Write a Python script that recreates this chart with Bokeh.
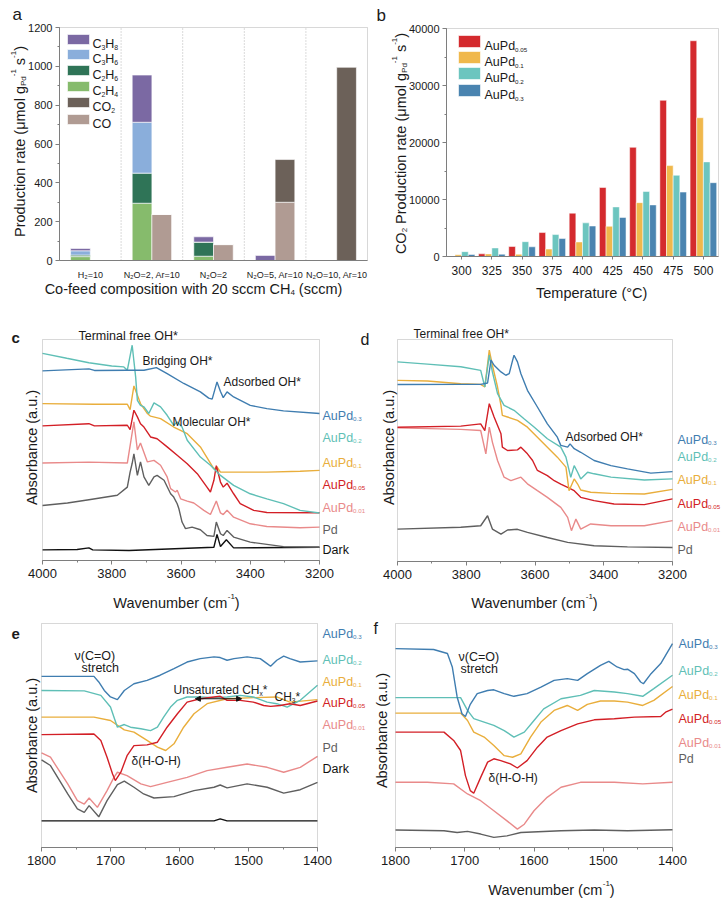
import math
from bokeh.plotting import figure
from bokeh.models import (Range1d, Label, BoxAnnotation, Arrow, NormalHead, FixedTicker,
                          SingleIntervalTicker, ColumnDataSource)
from bokeh.layouts import column, row
from bokeh.transform import dodge
from bokeh.embed import file_html
from bokeh.resources import INLINE

FONT = "Liberation Sans"
AXC = "#7f7f7f"
TXT = "#1a1a1a"

# ---------------- production rates over co-feed compositions ----------------
feeds = ["H\u2082=10", "N\u2082O=2, Ar=10", "N\u2082O=2", "N\u2082O=5, Ar=10", "N\u2082O=10, Ar=10"]
rate_c2h4 = [20, 295, 22, 0, 0]
rate_c2h6 = [8, 155, 73, 0, 0]
rate_c3h6 = [22, 262, 0, 0, 0]
rate_c3h8 = [12, 243, 27, 26, 0]
rate_co = [0, 237, 82, 300, 0]
rate_co2 = [0, 0, 0, 220, 995]

# ---------------- CO2 production vs temperature ----------------
temps = ["300", "325", "350", "375", "400", "425", "450", "475", "500"]
co2_au005 = [100, 470, 1750, 4200, 7600, 12100, 19150, 27400, 37850]
co2_au01 = [300, 450, 400, 1300, 2550, 5300, 9450, 15950, 24350]
co2_au02 = [850, 1500, 2600, 3850, 5900, 8700, 11400, 14250, 16600]
co2_au03 = [350, 400, 1700, 3150, 5350, 6850, 9050, 11300, 12950]

# ---------------- OH region spectra, first set (wavenumber, absorbance a.u.) ----------------
oh1_au03 = [(4000, 85.8), (3866, 86.7), (3850, 86.0), (3755, 86.1), (3707, 86.1), (3671, 87.3), (3640, 84.6),
            (3592, 80.1), (3544, 76.3), (3520, 73.5), (3510, 73.0), (3496, 80.8), (3486, 76.5), (3478, 73.7),
            (3467, 76.3), (3448, 74.0), (3400, 70.2), (3352, 68.7), (3304, 67.7), (3200, 66.5)]
oh1_au02 = [(4000, 93.7), (3930, 91.5), (3866, 89.5), (3800, 88.0), (3765, 87.6), (3755, 86.1), (3741, 97.4),
            (3731, 83.1), (3726, 72.5), (3717, 70.2), (3707, 69.5), (3693, 66.5), (3678, 71.3), (3659, 69.5),
            (3640, 65.7), (3621, 61.2), (3611, 62.7), (3597, 60.4), (3582, 54.4), (3544, 46.8), (3515, 43.1),
            (3486, 38.5), (3448, 34.0), (3400, 30.2), (3352, 27.9), (3304, 25.7), (3256, 22.7), (3200, 21.5)]
oh1_au01 = [(4000, 71.0), (3850, 70.7), (3755, 70.7), (3747, 68.3), (3736, 79.0), (3717, 71.0), (3697, 66.5),
            (3688, 65.3), (3659, 64.2), (3621, 60.4), (3582, 57.4), (3544, 51.4), (3505, 41.5), (3496, 42.3),
            (3486, 40.0), (3448, 40.0), (3352, 40.0), (3256, 40.4), (3200, 40.8)]
oh1_au005 = [(4000, 60.9), (3866, 61.9), (3850, 60.9), (3755, 61.2), (3747, 59.2), (3736, 68.0), (3726, 65.0),
             (3717, 61.9), (3707, 60.4), (3688, 55.9), (3669, 55.1), (3640, 51.4), (3611, 47.6), (3582, 43.8),
             (3553, 39.3), (3525, 33.2), (3515, 31.0), (3505, 36.3), (3498, 42.9), (3486, 35.5), (3478, 33.2),
             (3467, 35.0), (3448, 30.2), (3429, 25.7), (3390, 22.7), (3352, 21.7), (3200, 21.6)]
oh1_au001 = [(4000, 44.1), (3866, 44.5), (3755, 44.1), (3736, 62.7), (3726, 50.0), (3717, 53.2), (3697, 44.6),
             (3678, 45.3), (3659, 43.1), (3640, 37.8), (3630, 32.5), (3616, 31.0), (3611, 31.8), (3601, 27.9),
             (3582, 26.9), (3563, 26.0), (3534, 22.7), (3515, 20.8), (3498, 26.9), (3486, 21.5), (3478, 20.8),
             (3467, 22.7), (3448, 19.6), (3400, 16.6), (3352, 15.4), (3256, 14.8), (3200, 15.1)]
oh1_pd = [(4000, 24.9), (3928, 26.0), (3866, 27.5), (3784, 29.5), (3755, 33.2), (3747, 40.0), (3741, 44.0),
          (3736, 48.3), (3726, 38.5), (3717, 44.6), (3707, 37.8), (3693, 34.0), (3678, 37.8), (3669, 38.5),
          (3649, 36.3), (3630, 30.2), (3621, 28.7), (3611, 25.7), (3606, 23.4), (3597, 17.4), (3587, 14.4),
          (3568, 15.1), (3544, 13.9), (3525, 11.3), (3505, 10.9), (3498, 17.4), (3486, 12.1), (3478, 11.3),
          (3467, 13.6), (3448, 10.6), (3400, 8.3), (3304, 6.3), (3200, 6.0)]
oh1_dark = [(4000, 4.8), (3900, 5.0), (3866, 5.7), (3855, 4.8), (3750, 4.5), (3505, 6.0), (3496, 11.8),
            (3486, 6.3), (3469, 9.4), (3448, 5.7), (3200, 6.0)]

# ---------------- OH region spectra, second set ----------------
oh2_au03 = [(4000, 79.7), (3816, 79.8), (3758, 79.8), (3738, 80.4), (3728, 90.7), (3719, 88.4), (3699, 85.4),
            (3685, 83.9), (3675, 84.6), (3665, 90.7), (3661, 92.9), (3651, 89.9), (3641, 84.6), (3622, 77.1),
            (3593, 69.6), (3564, 62.0), (3535, 56.0), (3525, 52.3), (3505, 51.5), (3498, 53.0), (3486, 50.8),
            (3467, 49.2), (3428, 45.5), (3379, 43.2), (3331, 41.7), (3263, 39.8), (3200, 40.5)]
oh2_au02 = [(4000, 89.9), (3913, 88.9), (3816, 87.7), (3758, 86.1), (3746, 78.6), (3733, 93.0), (3724, 85.4),
            (3709, 75.6), (3690, 70.3), (3661, 68.1), (3632, 64.3), (3602, 60.5), (3564, 55.3), (3525, 51.5),
            (3510, 47.0), (3496, 37.9), (3486, 43.2), (3476, 40.2), (3467, 37.2), (3447, 40.2), (3428, 39.5),
            (3379, 38.0), (3282, 36.7), (3200, 37.2)]
oh2_au01 = [(4000, 81.6), (3913, 81.3), (3816, 80.1), (3758, 79.8), (3746, 78.6), (3733, 95.2), (3724, 88.4),
            (3709, 78.6), (3699, 70.3), (3695, 65.8), (3680, 65.1), (3651, 63.6), (3622, 60.5), (3593, 56.0),
            (3564, 51.5), (3535, 47.0), (3510, 42.5), (3501, 31.9), (3486, 37.2), (3476, 34.9), (3467, 32.2),
            (3438, 31.2), (3379, 30.7), (3282, 30.4), (3200, 32.5)]
oh2_au005 = [(4000, 60.5), (3816, 61.0), (3758, 62.0), (3746, 59.0), (3733, 71.1), (3719, 65.1), (3699, 57.5),
             (3695, 51.5), (3680, 50.0), (3651, 50.3), (3641, 51.5), (3622, 48.5), (3607, 45.5), (3593, 41.0),
             (3564, 38.7), (3544, 36.4), (3525, 34.9), (3505, 33.4), (3486, 31.9), (3467, 28.9), (3428, 27.4),
             (3370, 25.9), (3282, 25.6), (3200, 28.2)]
oh2_au001 = [(4000, 60.2), (3816, 59.5), (3758, 59.0), (3743, 48.5), (3733, 60.5), (3724, 53.8), (3709, 45.5),
             (3690, 38.0), (3670, 36.4), (3641, 38.0), (3622, 35.0), (3593, 31.9), (3564, 28.9), (3525, 24.4),
             (3505, 19.9), (3494, 13.9), (3481, 19.1), (3467, 14.6), (3438, 16.9), (3379, 16.1), (3282, 16.1),
             (3200, 18.4)]
oh2_pd = [(4000, 14.6), (3816, 15.4), (3758, 16.1), (3738, 20.6), (3724, 14.6), (3699, 12.3), (3680, 14.2),
          (3651, 14.5), (3622, 13.1), (3564, 10.8), (3505, 8.6), (3428, 7.1), (3331, 6.6), (3200, 6.3)]

# ---------------- carbonyl / bending region spectra, first set ----------------
cm1_au03 = [(1800, 76.4), (1724, 76.4), (1717, 73.9), (1709, 70.1), (1700, 67.2), (1690, 66.0), (1680, 70.1),
            (1666, 73.1), (1647, 74.6), (1628, 76.9), (1608, 79.9), (1589, 82.8), (1570, 84.3), (1550, 85.1),
            (1541, 84.8), (1531, 83.6), (1521, 84.3), (1502, 85.1), (1483, 84.3), (1473, 82.1), (1468, 80.9),
            (1459, 83.6), (1449, 85.4), (1440, 84.3), (1425, 82.8), (1400, 83.3)]
cm1_au02 = [(1800, 70.1), (1738, 69.9), (1714, 67.9), (1700, 62.7), (1690, 53.7), (1680, 54.9), (1671, 53.7),
            (1656, 53.0), (1642, 52.2), (1632, 53.7), (1623, 58.2), (1613, 62.7), (1603, 65.7), (1589, 67.2),
            (1570, 67.2), (1550, 66.9), (1531, 67.2), (1512, 67.9), (1493, 67.2), (1473, 64.9), (1459, 64.2),
            (1444, 62.7), (1425, 65.7), (1400, 72.4)]
cm1_au01 = [(1800, 58.2), (1724, 58.2), (1700, 56.7), (1680, 52.5), (1666, 51.5), (1647, 47.8), (1632, 44.8),
            (1620, 43.3), (1608, 46.3), (1594, 53.7), (1579, 59.7), (1560, 64.2), (1531, 66.4), (1493, 66.9),
            (1459, 67.2), (1440, 64.9), (1400, 66.0)]
cm1_au005 = [(1800, 50.4), (1724, 50.7), (1714, 47.8), (1705, 40.3), (1697, 32.8), (1693, 29.9), (1685, 33.6),
             (1676, 41.0), (1666, 45.5), (1647, 45.8), (1632, 47.0), (1618, 53.7), (1603, 59.7), (1589, 64.9),
             (1570, 66.4), (1550, 67.2), (1541, 67.5), (1531, 65.7), (1512, 65.7), (1493, 64.9), (1478, 63.4),
             (1468, 63.0), (1454, 63.4), (1440, 64.2), (1425, 63.4), (1400, 65.4)]
cm1_au001 = [(1800, 42.2), (1787, 40.3), (1762, 28.4), (1748, 20.9), (1738, 19.4), (1731, 22.1), (1719, 17.9),
             (1705, 25.4), (1695, 31.3), (1690, 33.6), (1676, 32.1), (1656, 28.4), (1642, 27.2), (1618, 29.1),
             (1589, 31.3), (1560, 34.3), (1531, 35.8), (1502, 37.3), (1473, 35.8), (1449, 33.6), (1425, 35.8),
             (1400, 40.7)]
cm1_pd = [(1800, 39.1), (1787, 36.6), (1762, 23.9), (1748, 17.2), (1738, 15.7), (1731, 18.7), (1717, 13.7),
          (1705, 20.9), (1690, 28.1), (1680, 29.6), (1666, 26.9), (1652, 23.9), (1637, 22.1), (1608, 22.7),
          (1579, 25.4), (1550, 26.9), (1541, 27.9), (1531, 26.6), (1502, 28.4), (1473, 26.9), (1449, 24.3),
          (1425, 25.8), (1400, 29.1)]
cm1_dark = [(1800, 11.9), (1550, 11.9), (1541, 12.8), (1531, 11.9), (1400, 11.9)]

# ---------------- carbonyl / bending region spectra, second set ----------------
cm2_au03 = [(1800, 88.8), (1745, 88.4), (1725, 86.6), (1718, 80.6), (1711, 67.2), (1704, 59.7), (1699, 58.5),
            (1692, 63.9), (1682, 68.7), (1667, 70.1), (1658, 70.4), (1643, 68.7), (1629, 67.5), (1610, 68.7),
            (1590, 71.6), (1571, 74.6), (1552, 75.4), (1537, 74.6), (1523, 77.6), (1504, 81.3), (1492, 83.1),
            (1480, 80.6), (1470, 79.4), (1465, 79.6), (1455, 77.6), (1446, 73.9), (1442, 73.1), (1431, 77.6),
            (1417, 82.1), (1400, 91.0)]
cm2_au02 = [(1800, 66.9), (1706, 66.9), (1696, 61.2), (1687, 57.5), (1672, 56.0), (1658, 54.5), (1643, 52.2),
            (1629, 49.3), (1614, 51.5), (1600, 56.7), (1586, 61.9), (1561, 66.4), (1533, 67.9), (1513, 70.1),
            (1484, 69.4), (1465, 68.7), (1443, 67.5), (1427, 70.9), (1400, 76.9)]
cm2_au01 = [(1800, 60.0), (1706, 60.0), (1696, 56.7), (1687, 51.5), (1672, 49.3), (1658, 45.5), (1643, 41.0),
            (1631, 40.3), (1619, 41.8), (1605, 49.3), (1590, 56.0), (1571, 61.2), (1552, 63.4), (1537, 61.2),
            (1523, 63.9), (1504, 65.4), (1484, 65.4), (1465, 64.9), (1443, 63.4), (1427, 65.7), (1400, 71.9)]
cm2_au005 = [(1800, 51.5), (1730, 51.5), (1716, 47.8), (1706, 43.3), (1699, 32.1), (1692, 25.4), (1687, 24.2),
             (1677, 31.3), (1667, 38.1), (1658, 39.6), (1648, 38.8), (1634, 37.3), (1624, 35.5), (1610, 38.8),
             (1595, 44.8), (1581, 49.3), (1561, 52.2), (1537, 55.2), (1513, 57.0), (1484, 57.5), (1455, 58.2),
             (1417, 58.5), (1410, 60.4), (1400, 61.8)]
cm2_au001 = [(1800, 29.1), (1754, 29.1), (1716, 28.4), (1696, 23.9), (1677, 20.9), (1658, 16.4), (1639, 11.9),
             (1624, 8.2), (1614, 10.4), (1600, 16.4), (1581, 22.4), (1561, 26.9), (1533, 29.1), (1484, 29.1),
             (1443, 28.4), (1400, 29.1)]
cm2_pd = [(1800, 7.8), (1730, 7.5), (1711, 6.7), (1696, 7.2), (1677, 6.0), (1658, 4.5), (1639, 5.2),
          (1619, 6.7), (1561, 7.5), (1513, 7.8), (1465, 7.5), (1400, 7.9)]

# wavenumber span of the unsaturated CHx band marker
chx_band = (1577, 1510)
chx_level = 66.4

# ---------------- colours ----------------
C_AU03 = "#3f7db0"
C_AU02 = "#5fbfb6"
C_AU01 = "#e9ae3c"
C_AU005 = "#d31f26"
C_AU001 = "#e98a8a"
C_PD = "#5f5f5f"
C_DARK = "#111111"

BAR_RED = "#d42a2e"
BAR_YEL = "#f0b84c"
BAR_TEAL = "#6cc5bf"
BAR_BLUE = "#4a84b0"

COL_C3H8 = "#7b69a3"
COL_C3H6 = "#8aaedb"
COL_C2H6 = "#2f7457"
COL_C2H4 = "#86bb6c"
COL_CO2 = "#6c6159"
COL_CO = "#b09b93"

# Arial-compatible advance widths (per 1000 em) used to lay out mixed sub/superscript text
W = {' ': 278, '(': 333, ')': 333, '-': 333, '.': 278, ',': 278, '*': 389, '=': 584, '\u00b0': 400,
     'A': 667, 'B': 667, 'C': 722, 'D': 722, 'E': 667, 'H': 722, 'M': 833, 'N': 722, 'O': 778, 'P': 667,
     'T': 611, 'U': 722, 'W': 944, 'a': 556, 'b': 556, 'c': 500, 'd': 556, 'e': 556, 'f': 278, 'g': 556,
     'h': 556, 'i': 222, 'k': 500, 'l': 222, 'm': 833, 'n': 556, 'o': 556, 'p': 556, 'r': 333, 's': 500,
     't': 278, 'u': 556, 'v': 500, 'w': 722, 'x': 500, 'y': 500, '\u03bc': 576, '\u03bd': 500, '\u03b4': 556}
SUBSCALE = 0.55


def text_width(s, size):
    return sum(W.get(ch, 556) for ch in s) * size / 1000.0


class Panel:
    """One plot whose frame fills the whole figure; the data box sits at given page pixels.

    xbox: data values at the box's left/right edges, ybox: data values at its bottom/top edges.
    """

    def __init__(self, ox, oy, w, h, left, right, top, bottom, xbox, ybox):
        self.ox, self.oy, self.w, self.h = ox, oy, w, h
        self.xbox, self.ybox = xbox, ybox
        kx = (xbox[1] - xbox[0]) / (right - left)
        ky = (ybox[1] - ybox[0]) / (bottom - top)
        self.x_start = xbox[0] - (left - ox) * kx
        self.x_end = xbox[1] + (ox + w - right) * kx
        self.y_start = ybox[0] - (oy + h - bottom) * ky
        self.y_end = ybox[1] + (top - oy) * ky

    def figure(self):
        p = figure(width=self.w, height=self.h,
                   x_range=Range1d(self.x_start, self.x_end), y_range=Range1d(self.y_start, self.y_end),
                   min_border=0, output_backend="svg", toolbar_location=None)
        p.xgrid.visible = False
        p.ygrid.visible = False
        p.outline_line_color = None
        p.background_fill_color = "white"
        p.border_fill_color = "white"
        p.add_layout(BoxAnnotation(left=self.xbox[0], right=self.xbox[1], bottom=self.ybox[0], top=self.ybox[1],
                                   fill_alpha=0.0, line_color=AXC, line_width=1))
        return p

    def box(self, p, px0, py0, px1, py1, color):
        """Legend swatch given in page pixels."""
        kx = (self.x_end - self.x_start) / self.w
        ky = (self.y_end - self.y_start) / self.h
        p.add_layout(BoxAnnotation(left=self.x_start + (px0 - self.ox) * kx,
                                   right=self.x_start + (px1 - self.ox) * kx,
                                   top=self.y_end - (py0 - self.oy) * ky,
                                   bottom=self.y_end - (py1 - self.oy) * ky,
                                   fill_color=color, fill_alpha=1.0, line_color="white", line_alpha=0.6))


def rich(p, panel, px, py, parts, size, color=TXT, angle=0.0, bold=False, align="left", sub=SUBSCALE):
    """Place text with sub/superscript pieces; positions are page pixels, drawn in canvas units."""
    total = sum(text_width(t, size * (sub if k else 1.0)) for t, k in parts)
    pos = -total / 2.0 if align == "center" else 0.0
    for txt, kind in parts:
        s = size * (sub if kind else 1.0)
        # leading blanks collapse in SVG text, so advance past them explicitly
        body = txt.lstrip(" ")
        pos += text_width(txt[:len(txt) - len(body)], s)
        if body:
            shift = {"": 0.0, "sub": 0.30 * size, "sup": -0.42 * size}[kind]
            if angle:
                x, y = px + shift, py - pos
            else:
                x, y = px + pos, py + shift
            p.add_layout(Label(x=x - panel.ox, y=y - panel.oy, x_units="canvas", y_units="canvas",
                               text=body, text_font=FONT, text_font_size=f"{s:.1f}px",
                               text_color=color, text_baseline="alphabetic", text_align="left",
                               angle=angle, text_font_style="bold" if bold else "normal"))
        pos += text_width(body, s)


def style_axis(ax, size):
    ax.axis_line_color = AXC
    ax.major_tick_line_color = AXC
    ax.minor_tick_line_color = AXC
    ax.major_tick_out = 4
    ax.major_tick_in = 0
    ax.minor_tick_out = 2
    ax.minor_tick_in = 0
    ax.major_label_text_font = FONT
    ax.major_label_text_font_size = size
    ax.major_label_text_color = TXT


RATE = [("Production rate (\u03bcmol g", ""), ("Pd", "sub"), ("-1", "sup"), (" s", ""), ("-1", "sup"), (")", "")]
WAVE = [("Wavenumber (cm", ""), ("-1", "sup"), (")", "")]
ABS = [("Absorbance (a.u.)", "")]


def au(sub):
    return [("AuPd", ""), (sub, "sub")]


def series_labels(p, panel, x, entries):
    for parts, col, by in entries:
        rich(p, panel, x, by, parts, 12.5, color=col, sub=0.5)


# ================= production rates =================
feed_pos = [i + 0.5 for i in range(len(feeds))]
PA = Panel(0, 0, 372, 302, 59, 367, 27, 260, (0, len(feeds)), (0, 1200))
pa = PA.figure()
src_a = ColumnDataSource(dict(pos=feed_pos, c2h4=rate_c2h4, c2h6=rate_c2h6, c3h6=rate_c3h6,
                              c3h8=rate_c3h8, co=rate_co, co2=rate_co2))
pa.vbar_stack(["c2h4", "c2h6", "c3h6", "c3h8"], x=dodge("pos", -0.16), width=0.32,
              source=src_a, fill_color=[COL_C2H4, COL_C2H6, COL_C3H6, COL_C3H8],
              line_color="white", line_alpha=0.6, line_width=1)
pa.vbar_stack(["co", "co2"], x=dodge("pos", 0.16), width=0.32,
              source=src_a, fill_color=[COL_CO, COL_CO2], line_color="white", line_alpha=0.6, line_width=1)
# dotted separators between feed groups
seps = list(range(1, len(feeds)))
pa.segment(x0=seps, y0=[0] * len(seps), x1=seps, y1=[1200] * len(seps),
           line_color="#b5b5b5", line_dash="1 2", line_width=1)
style_axis(pa.yaxis[0], "11px")
pa.yaxis.fixed_location = 0
pa.yaxis.bounds = (0, 1200)
pa.yaxis.ticker = SingleIntervalTicker(interval=200, num_minor_ticks=2)
pa.yaxis.major_label_standoff = 3
style_axis(pa.xaxis[0], "9px")
pa.xaxis.fixed_location = 0
pa.xaxis.bounds = (0, len(feeds))
pa.xaxis.ticker = FixedTicker(ticks=feed_pos)
pa.xaxis.major_label_overrides = {p_: f for p_, f in zip(feed_pos, feeds)}
pa.xaxis.major_tick_line_color = None
pa.xaxis.major_label_standoff = 5

legend_a = [([("C", ""), ("3", "sub"), ("H", ""), ("8", "sub")], COL_C3H8, 39),
            ([("C", ""), ("3", "sub"), ("H", ""), ("6", "sub")], COL_C3H6, 54),
            ([("C", ""), ("2", "sub"), ("H", ""), ("6", "sub")], COL_C2H6, 70),
            ([("C", ""), ("2", "sub"), ("H", ""), ("4", "sub")], COL_C2H4, 86),
            ([("CO", ""), ("2", "sub")], COL_CO2, 102),
            ([("CO", "")], COL_CO, 119)]
for parts, col, cy in legend_a:
    PA.box(pa, 67, cy - 5, 89, cy + 5, col)
    rich(pa, PA, 92, cy + 4.5, parts, 12.5)
rich(pa, PA, 19, 141, RATE, 14.5, angle=math.pi / 2, align="center")
rich(pa, PA, 193, 288, [("Co-feed composition with 20 sccm CH", ""), ("4", "sub"), (" (sccm)", "")],
     14.5, align="center")
rich(pa, PA, 12, 14, [("a", "")], 17)

# ================= CO2 production vs temperature =================
temp_pos = [i + 0.5 for i in range(len(temps))]
PB = Panel(372, 0, 349, 302, 446, 718, 28, 256, (0, len(temps)), (0, 40000))
pb = PB.figure()
src_b = ColumnDataSource(dict(pos=temp_pos, a=co2_au005, b=co2_au01, c=co2_au02, d=co2_au03))
for key, off, col in [("a", -0.33, BAR_RED), ("b", -0.11, BAR_YEL), ("c", 0.11, BAR_TEAL), ("d", 0.33, BAR_BLUE)]:
    pb.vbar(x=dodge("pos", off), top=key, width=0.22, source=src_b,
            fill_color=col, line_color="white", line_alpha=0.5, line_width=1)
style_axis(pb.yaxis[0], "11px")
pb.yaxis.fixed_location = 0
pb.yaxis.bounds = (0, 40000)
pb.yaxis.ticker = SingleIntervalTicker(interval=10000, num_minor_ticks=2)
pb.yaxis.major_label_standoff = 3
style_axis(pb.xaxis[0], "12px")
pb.xaxis.fixed_location = 0
pb.xaxis.bounds = (0, len(temps))
pb.xaxis.ticker = FixedTicker(ticks=temp_pos)
pb.xaxis.major_label_overrides = {p_: t for p_, t in zip(temp_pos, temps)}
pb.xaxis.major_tick_out = 3
pb.xaxis.major_label_standoff = 6
for sub, col, cy in [("0.05", BAR_RED, 41), ("0.1", BAR_YEL, 57), ("0.2", BAR_TEAL, 73), ("0.3", BAR_BLUE, 90)]:
    PB.box(pb, 458, cy - 6, 480, cy + 6, col)
    rich(pb, PB, 484, cy + 4.5, au(sub), 12.5, sub=0.5)
rich(pb, PB, 400, 143, [("CO", ""), ("2", "sub"), (" ", "")] + RATE, 14.5, angle=math.pi / 2, align="center")
rich(pb, PB, 592, 292, [("Temperature (\u00b0C)", "")], 14.5, align="center")
rich(pb, PB, 376, 15, [("b", "")], 17)


# ================= spectra =================
def spectra(panel, major, curves):
    p = panel.figure()
    p.yaxis.visible = False
    ax = p.xaxis[0]
    style_axis(ax, "13px")
    ax.fixed_location = panel.ybox[0]
    ax.bounds = panel.xbox
    ax.ticker = SingleIntervalTicker(interval=major, num_minor_ticks=2)
    ax.major_label_standoff = 4
    for pts, col in curves:
        p.line([w for w, _ in pts], [a for _, a in pts], line_color=col, line_width=1.4)
    return p


ROW2, H2 = 302, 312
ROW3, H3 = 614, 285
PC = Panel(0, ROW2, 372, H2, 42, 319, 339, 560, (4000, 3200), (0, 100))
pc = spectra(PC, 200, [(oh1_dark, C_DARK), (oh1_pd, C_PD), (oh1_au001, C_AU001), (oh1_au01, C_AU01),
                       (oh1_au005, C_AU005), (oh1_au02, C_AU02), (oh1_au03, C_AU03)])
series_labels(pc, PC, 322, [(au("0.3"), C_AU03, 415), (au("0.2"), C_AU02, 437), (au("0.1"), C_AU01, 462),
                            (au("0.05"), C_AU005, 484), (au("0.01"), C_AU001, 507), ([("Pd", "")], C_PD, 529),
                            ([("Dark", "")], C_DARK, 549)])
rich(pc, PC, 78, 335, [("Terminal free OH*", "")], 12.5)
rich(pc, PC, 142, 360, [("Bridging OH*", "")], 12)
rich(pc, PC, 223, 381, [("Adsorbed OH*", "")], 12)
rich(pc, PC, 172, 421, [("Molecular OH*", "")], 12)
rich(pc, PC, 31, 447, ABS, 14.5, angle=math.pi / 2, align="center")
rich(pc, PC, 176, 602, WAVE, 14.5, align="center")
rich(pc, PC, 11, 337, [("c", "")], 15, bold=True)
# the "d" tag sits left of the second plot's canvas, so it is drawn on this one
rich(pc, PC, 360, 339, [("d", "")], 16)

PD = Panel(372, ROW2, 349, H2, 397, 672, 339, 561, (4000, 3200), (0, 100))
pd_ = spectra(PD, 200, [(oh2_pd, C_PD), (oh2_au001, C_AU001), (oh2_au005, C_AU005),
                        (oh2_au01, C_AU01), (oh2_au02, C_AU02), (oh2_au03, C_AU03)])
series_labels(pd_, PD, 677, [(au("0.3"), C_AU03, 439), (au("0.2"), C_AU02, 456), (au("0.1"), C_AU01, 479),
                             (au("0.05"), C_AU005, 503), (au("0.01"), C_AU001, 526), ([("Pd", "")], C_PD, 549)])
rich(pd_, PD, 413, 333, [("Terminal free OH*", "")], 12)
rich(pd_, PD, 565, 436, [("Adsorbed OH*", "")], 12)
rich(pd_, PD, 388, 447, ABS, 14.5, angle=math.pi / 2, align="center")
rich(pd_, PD, 534, 602, WAVE, 14.5, align="center")

PE = Panel(0, ROW3, 372, H3, 41, 317, 623, 847, (1800, 1400), (0, 100))
pe = spectra(PE, 100, [(cm1_dark, C_DARK), (cm1_pd, C_PD), (cm1_au001, C_AU001), (cm1_au01, C_AU01),
                       (cm1_au02, C_AU02), (cm1_au005, C_AU005), (cm1_au03, C_AU03)])
series_labels(pe, PE, 322, [(au("0.3"), C_AU03, 633), (au("0.2"), C_AU02, 659), (au("0.1"), C_AU01, 681),
                            (au("0.05"), C_AU005, 702), (au("0.01"), C_AU001, 724), ([("Pd", "")], C_PD, 747),
                            ([("Dark", "")], C_DARK, 768)])
rich(pe, PE, 74, 655, [("\u03bd(C=O)", "")], 12.5)
rich(pe, PE, 81, 667, [("stretch", "")], 12.5)
rich(pe, PE, 173, 689, [("Unsaturated CH", ""), ("x", "sub"), ("*", "")], 12)
rich(pe, PE, 274, 696, [("CH", ""), ("3", "sub"), ("*", "")], 12)
rich(pe, PE, 131, 760, [("\u03b4(H-O-H)", "")], 12)
pe.add_layout(Arrow(start=NormalHead(size=5, fill_color="#111111", line_color="#111111"),
                    end=NormalHead(size=5, fill_color="#111111", line_color="#111111"),
                    x_start=chx_band[0], y_start=chx_level, x_end=chx_band[1], y_end=chx_level,
                    line_color="#111111", line_width=1))
rich(pe, PE, 31, 735, ABS, 14.5, angle=math.pi / 2, align="center")
rich(pe, PE, 11, 633, [("e", "")], 15, bold=True)

PF = Panel(372, ROW3, 349, H3, 395, 672, 623, 847, (1800, 1400), (0, 100))
pf = spectra(PF, 100, [(cm2_pd, C_PD), (cm2_au001, C_AU001), (cm2_au005, C_AU005),
                       (cm2_au01, C_AU01), (cm2_au02, C_AU02), (cm2_au03, C_AU03)])
series_labels(pf, PF, 678, [(au("0.3"), C_AU03, 643), (au("0.2"), C_AU02, 670), (au("0.1"), C_AU01, 694),
                            (au("0.05"), C_AU005, 718), (au("0.01"), C_AU001, 742), ([("Pd", "")], C_PD, 758)])
rich(pf, PF, 458, 656, [("\u03bd(C=O)", "")], 12.5)
rich(pf, PF, 460, 668, [("stretch", "")], 12.5)
rich(pf, PF, 488, 777, [("\u03b4(H-O-H)", "")], 12)
rich(pf, PF, 381, 730, ABS, 14.5, angle=math.pi / 2, align="center")
rich(pf, PF, 551, 889, WAVE, 14.5, align="center")
rich(pf, PF, 373, 628, [("f", "")], 16)

layout = column(row(pa, pb), row(pc, pd_), row(pe, pf))
open("out.html", "w").write(file_html(layout, INLINE))
